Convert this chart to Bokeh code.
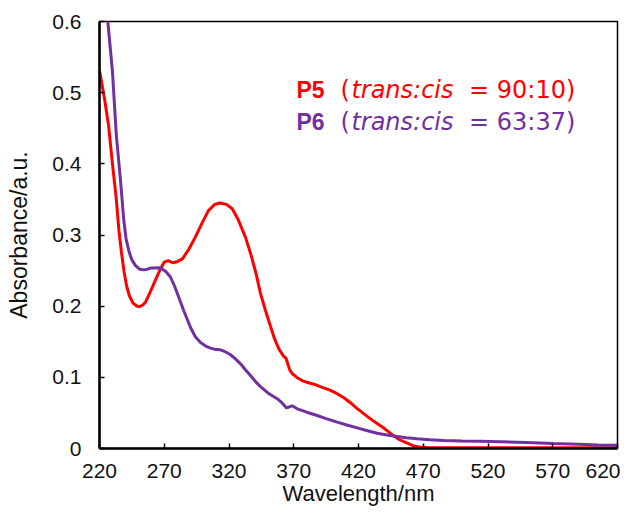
from bokeh.plotting import figure
from bokeh.models import Range1d, FixedTicker, Label
from bokeh.embed import file_html
from bokeh.resources import INLINE

# ---- data ----
p5_nm = [220, 224, 227, 230, 233, 235, 237, 239, 241, 243, 246, 249, 251, 253, 255.5,
         259, 263, 267, 270, 273, 276.5, 280, 284, 289, 294, 299, 304, 309, 313, 318,
         322.5, 327, 332.7, 337, 341, 344.3, 348, 352, 355, 358.5, 362, 364, 367, 369,
         373, 377, 382, 387, 392, 398, 403.5, 409, 414, 419, 424, 429, 434.4, 440, 447,
         452, 457.6, 462, 467, 475, 500, 550, 600, 620]
p5_abs = [0.531, 0.49, 0.454, 0.40, 0.35, 0.306, 0.275, 0.248, 0.228, 0.215, 0.204, 0.200,
          0.1995, 0.201, 0.2056, 0.219, 0.236, 0.252, 0.262, 0.264, 0.261, 0.2625, 0.2665,
          0.28, 0.297, 0.316, 0.334, 0.343, 0.345, 0.343, 0.337, 0.322, 0.297, 0.272, 0.245,
          0.218, 0.195, 0.172, 0.155, 0.140, 0.130, 0.127, 0.110, 0.105, 0.099, 0.095, 0.092,
          0.0895, 0.086, 0.082, 0.077, 0.071, 0.064, 0.056, 0.049, 0.042, 0.035, 0.028, 0.018,
          0.012, 0.0075, 0.004, 0.002, 0.001, 0.001, 0.001, 0.001, 0.001]

p6_nm = [222, 226.4, 230, 233, 236.2, 238.8, 240.5, 242.6, 245, 247.8, 251, 254.2, 257,
         259.4, 262, 265.8, 268.5, 271, 274.8, 278, 281.2, 285, 290.3, 294, 298, 302, 305.7,
         310, 313.4, 317, 321.2, 325, 328.9, 332.5, 336.6, 340.5, 344.3, 350, 357.2, 361,
         364.4, 366, 368.8, 372.7, 380, 388.1, 395, 403.5, 411, 419, 427, 434.4, 442, 449.9,
         457, 465.3, 475, 485.9, 500, 514.2, 530, 550, 570, 590, 605, 620]
p6_abs = [0.70, 0.60, 0.53, 0.44, 0.377, 0.320, 0.295, 0.278, 0.265, 0.257, 0.252, 0.251,
          0.252, 0.2535, 0.2535, 0.254, 0.252, 0.249, 0.241, 0.228, 0.2126, 0.194, 0.170,
          0.157, 0.149, 0.144, 0.141, 0.139, 0.1387, 0.136, 0.1317, 0.126, 0.119, 0.111,
          0.1026, 0.094, 0.087, 0.078, 0.070, 0.064, 0.057, 0.058, 0.060, 0.0558, 0.051,
          0.0464, 0.042, 0.037, 0.033, 0.029, 0.025, 0.0215, 0.019, 0.017, 0.015, 0.0136,
          0.0122, 0.0112, 0.0107, 0.0103, 0.0095, 0.0085, 0.007, 0.006, 0.005, 0.0045]

x_ticks = [220, 270, 320, 370, 420, 470, 520, 570, 620]
y_ticks = [0, 0.1, 0.2, 0.3, 0.4, 0.5, 0.6]
y_tick_labels = ["0", "0.1", "0.2", "0.3", "0.4", "0.5", "0.6"]

RED = "#ff0000"
PURPLE = "#7030a0"
FONT = "Liberation Sans"
WIDE = "DejaVu Sans"

p = figure(width=620, height=511, output_backend="svg", toolbar_location=None,
           x_range=Range1d(220, 620), y_range=Range1d(0, 0.6),
           min_border_left=99, min_border_right=3, min_border_top=21,
           min_border_bottom=63)

p.line(p5_nm, p5_abs, line_color=RED, line_width=3)
p.line(p6_nm, p6_abs, line_color=PURPLE, line_width=3)

p.xgrid.visible = False
p.ygrid.visible = False
p.outline_line_color = "black"
p.outline_line_width = 1.5
p.background_fill_color = "white"
p.border_fill_color = "white"

for ax in (p.xaxis[0], p.yaxis[0]):
    ax.axis_line_width = 2.5
    ax.axis_line_color = "black"
    ax.major_tick_in = 5
    ax.major_tick_out = 0
    ax.major_tick_line_width = 1.5
    ax.minor_tick_line_color = None
    ax.major_label_text_font = FONT
    ax.major_label_text_font_size = "21px"
    ax.major_label_text_color = "#111111"
    ax.axis_label_text_font = FONT
    ax.axis_label_text_font_size = "23px"
    ax.axis_label_text_font_style = "normal"
    ax.axis_label_text_color = "#111111"

p.xaxis.ticker = FixedTicker(ticks=x_ticks)
p.yaxis.ticker = FixedTicker(ticks=y_ticks)
p.yaxis.major_label_overrides = {t: s for t, s in zip(y_ticks, y_tick_labels)}
p.xaxis.axis_label = "Wavelength/nm"
p.yaxis.axis_label = "Absorbance/a.u."
p.xaxis.major_label_standoff = 15
p.xaxis.axis_label_standoff = 0
p.xaxis.axis_label_text_font_size = "22px"
p.yaxis.major_label_standoff = 18
p.yaxis.axis_label_standoff = 17

# ---- annotation text (two coloured lines with bold / italic parts) ----
lines = [
    (0.504, RED, "P5", "90:10)"),
    (0.4585, PURPLE, "P6", "63:37)"),
]
for yv, col, name, ratio in lines:
    pieces = [
        (372.1, name, "bold", FONT, "23px", "left"),
        (406.1, "(", "normal", WIDE, "24px", "left"),
        (414.5, "trans:cis", "italic", WIDE, "24px", "left"),
        (513.1, "=", "normal", WIDE, "24px", "center"),
        (557.1, ratio, "normal", WIDE, "24px", "center"),
    ]
    for xv, txt, style, fnt, size, align in pieces:
        p.add_layout(Label(x=xv, y=yv, text=txt, text_color=col,
                           text_font=fnt, text_font_size=size,
                           text_font_style=style, text_baseline="alphabetic",
                           text_align=align))

open("out.html", "w").write(file_html(p, INLINE))
